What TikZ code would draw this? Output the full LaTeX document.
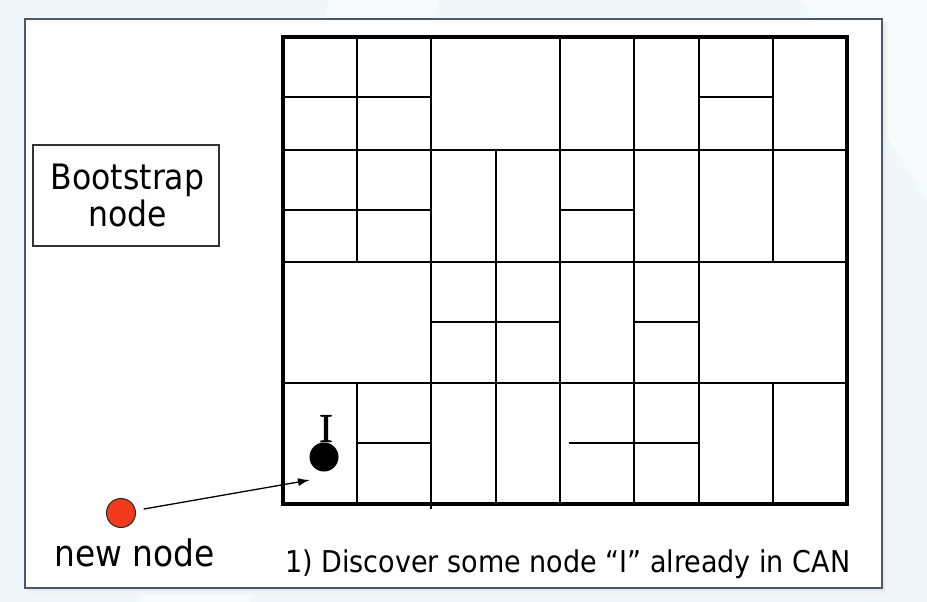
\documentclass[tikz,border=0pt]{standalone}
\usepackage{fontspec}
\setmainfont{DejaVu Sans}[FakeStretch=0.9]
\newfontfamily\serifI{Liberation Serif}[FakeBold=1.2]
\usetikzlibrary{arrows.meta}
\definecolor{bgblue}{RGB}{240,247,250}
\definecolor{bgstreak}{RGB}{247,251,253}
\definecolor{framec}{RGB}{72,88,110}
\definecolor{newred}{RGB}{242,58,28}
\begin{document}
\begin{tikzpicture}[x=1pt,y=-1pt,
  gridline/.style={line width=1.7pt, line cap=rect},
  gridborder/.style={line width=4.3pt, line join=miter},
  label/.style={inner sep=0pt, text=black}]
\useasboundingbox (0,0) rectangle (927,602);
% slide background
\fill[bgblue] (0,0) rectangle (927,602);
\fill[bgstreak] (330,0) -- (440,0) -- (250,602) -- (140,602) -- cycle;
\fill[bgstreak] (800,0) -- (927,0) -- (927,200) -- cycle;
% frame shadow
\fill[black!5] (27,22) rectangle (888,594);
\fill[black!9] (27,22) rectangle (885,591);
\draw[framec, line width=1.2pt, fill=white] (25,19) rectangle (882,588);
% CAN grid: full horizontal lines
\draw[gridline] (283,150) -- (848,150);
\draw[gridline] (283,262) -- (848,262);
\draw[gridline] (283,383) -- (848,383);
% partial horizontal lines
\draw[gridline] (283,97) -- (431,97);
\draw[gridline] (699,97) -- (773,97);
\draw[gridline] (283,210) -- (431,210);
\draw[gridline] (560,210) -- (634,210);
\draw[gridline] (431,322) -- (560,322);
\draw[gridline] (634,322) -- (699,322);
\draw[gridline] (357,443) -- (431,443);
\draw[gridline] (570,443) -- (699,443);
% vertical lines
\draw[gridline] (357,37) -- (357,262);
\draw[gridline] (357,383) -- (357,505);
\draw[gridline, line cap=butt] (431,37) -- (431,508.5);
\draw[gridline] (496,150) -- (496,505);
\draw[gridline] (560,37) -- (560,505);
\draw[gridline] (634,37) -- (634,505);
\draw[gridline] (699,37) -- (699,505);
\draw[gridline] (773,37) -- (773,262);
\draw[gridline] (773,383) -- (773,505);
% grid border
\draw[gridborder] (283,37) rectangle (847,504);
% bootstrap box
\node[draw=black!80, line width=1.2pt, minimum width=186pt, minimum height=101pt,
  inner sep=0pt, align=center, font=\fontsize{35}{37}\selectfont] (boot) at (126,195.5) {\hspace*{3pt}Bootstrap\\\hspace*{3pt}node};
% node I
\node[circle, fill=black, minimum size=29pt, inner sep=0pt] (inode) at (324,457) {};
\node[label, anchor=base, font=\serifI\fontsize{41}{44}\selectfont] (ilabel) at (326,442) {I};
% new node
\node[circle, fill=newred, draw=black!85, line width=1pt, minimum size=29pt, inner sep=0pt] (newnode) at (121,513) {};
\coordinate (tip) at (310,480);
\draw[line width=1.3pt, -{Latex[length=12pt,width=8pt]}, shorten <=8pt] (newnode) -- (tip);
% labels
\node[label, anchor=base west, font=\fontsize{36.5}{40}\selectfont] (newlabel) at (54,566.7) {new node};
\node[label, anchor=base west, font=\fontsize{30}{34}\selectfont] (caption) at (285,572.7) {1) Discover some node “I” already in CAN};
\end{tikzpicture}
\end{document}
